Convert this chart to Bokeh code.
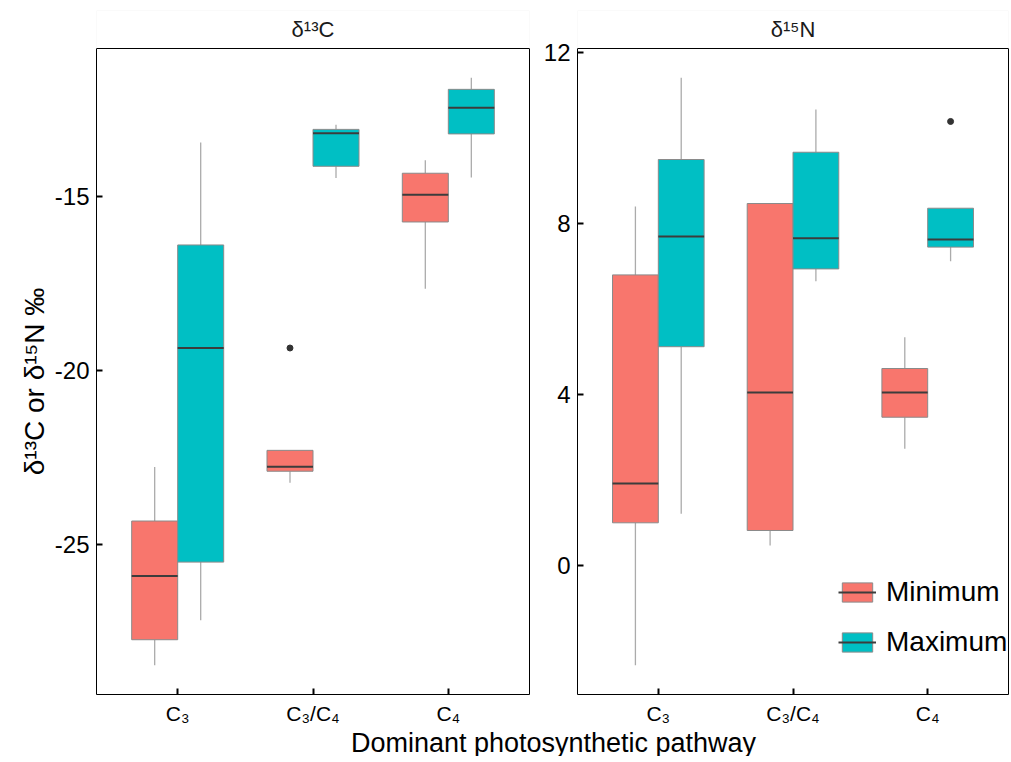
import math
from bokeh.plotting import figure
from bokeh.layouts import column, row
from bokeh.models import (FixedTicker, Range1d, Legend, LegendItem, ColumnDataSource,
                          LinearAxis, Span, BoxAnnotation, Label)
from bokeh.core.properties import value
from bokeh.embed import file_html
from bokeh.resources import INLINE

FONT = "Liberation Sans"

categories = ["C₃", "C₃/C₄", "C₄"]
groups = ["Minimum", "Maximum"]
group_colors = ["#F8766D", "#00BFC4"]

# delta 13C panel
c13_min_lower = [-28.47, -23.23, -17.66]
c13_min_q1 = [-27.74, -22.90, -15.74]
c13_min_median = [-25.91, -22.77, -14.96]
c13_min_q3 = [-24.33, -22.30, -14.34]
c13_min_upper = [-22.78, -22.30, -13.97]
c13_max_lower = [-27.18, -14.48, -14.46]
c13_max_q1 = [-25.51, -14.14, -13.21]
c13_max_median = [-19.36, -13.19, -12.46]
c13_max_q3 = [-16.40, -13.08, -11.93]
c13_max_upper = [-13.46, -12.95, -11.60]
c13_outlier_cat = ["C₃/C₄"]
c13_outlier_group = ["Minimum"]
c13_outlier_val = [-19.36]

# delta 15N panel
n15_min_lower = [-2.33, 0.47, 2.73]
n15_min_q1 = [1.00, 0.82, 3.47]
n15_min_median = [1.92, 4.05, 4.05]
n15_min_q3 = [6.80, 8.47, 4.61]
n15_min_upper = [8.40, 8.47, 5.34]
n15_max_lower = [1.21, 6.65, 7.12]
n15_max_q1 = [5.12, 6.94, 7.45]
n15_max_median = [7.70, 7.66, 7.63]
n15_max_q3 = [9.50, 9.67, 8.36]
n15_max_upper = [11.41, 10.67, 8.36]
n15_outlier_cat = ["C₄"]
n15_outlier_group = ["Maximum"]
n15_outlier_val = [10.39]

c13_ticks = [-25, -20, -15]
n15_ticks = [0, 4, 8, 12]

strip_labels = ["δ¹³C", "δ¹⁵N"]
y_title = "δ¹³C or δ¹⁵N ‰"
x_title = "Dominant photosynthetic pathway"

DODGE = 0.17
BOXW = 0.34
DATA_H = 646
STRIP_H = 38


def make_panel(stats, outliers, ticks, strip_label, left, right, fw, legend=False):
    allvals = []
    for g in stats:
        for k in g:
            allvals += g[k]
    allvals += outliers[2]
    lo, hi = min(allvals), max(allvals)
    pad = (hi - lo) * 0.05
    ymin, ymax = lo - pad, hi + pad
    ppu = DATA_H / (ymax - ymin)
    ytop = ymax + STRIP_H / ppu
    xr = Range1d(0.4, len(categories) + 0.6)
    p = figure(frame_width=fw, frame_height=DATA_H + STRIP_H,
               min_border_left=left, min_border_right=right,
               min_border_top=10, min_border_bottom=36,
               x_range=xr, y_range=Range1d(ymin, ytop),
               output_backend="svg", toolbar_location=None)
    p.grid.visible = False
    p.outline_line_color = None
    p.background_fill_color = "white"
    p.border_fill_color = "white"

    # strip on top of the panel
    p.add_layout(BoxAnnotation(bottom=ymax, fill_color="white", fill_alpha=1,
                               line_color="#d9d9d9", line_width=1, level="underlay"))

    renderers = []
    for gi, (g, col) in enumerate(zip(groups, group_colors)):
        st = stats[gi]
        off = -DODGE if gi == 0 else DODGE
        xs = [i + 1 + off for i in range(len(categories))]
        src = ColumnDataSource(dict(x=xs, lower=st["lower"], q1=st["q1"],
                                    q3=st["q3"], upper=st["upper"],
                                    x0=[x - BOXW / 2 for x in xs],
                                    x1=[x + BOXW / 2 for x in xs],
                                    med=st["median"]))
        p.segment(x0="x", x1="x", y0="q3", y1="upper", source=src,
                  line_color="#ababab", line_width=1.3)
        p.segment(x0="x", x1="x", y0="lower", y1="q1", source=src,
                  line_color="#ababab", line_width=1.3)
        b = p.vbar(x="x", width=BOXW, bottom="q1", top="q3", source=src,
                   fill_color=col, line_color="#8a8a8a", line_width=1)
        med = p.segment(x0="x0", x1="x1", y0="med", y1="med", source=src,
                        line_color="#3c3c3c", line_width=2)
        renderers.append((g, [b, med]))

    ox = []
    for c, g in zip(outliers[0], outliers[1]):
        off = -DODGE if g == groups[0] else DODGE
        ox.append(categories.index(c) + 1 + off)
    p.scatter(x=ox, y=outliers[2], size=6, fill_color="#333333", line_color="#333333")

    p.add_layout(Span(location=ymax, dimension="width", line_color="black", line_width=1))
    p.text(x=[(xr.start + xr.end) / 2], y=[(ymax + ytop) / 2], text=[strip_label],
           text_align="center", text_baseline="middle", text_font=value(FONT),
           text_font_size="22px", text_color="#1a1a1a")

    xax = p.below[0]
    yax = p.left[0]
    xax.ticker = FixedTicker(ticks=[i + 1 for i in range(len(categories))])
    xax.major_label_overrides = {i + 1: c for i, c in enumerate(categories)}
    yax.ticker = FixedTicker(ticks=ticks)
    yax.major_label_overrides = {t: str(t) for t in ticks}
    yax.bounds = (ymin, ymax)
    for ax in (xax, yax):
        ax.major_tick_in = 6
        ax.major_tick_out = 0
        ax.major_tick_line_width = 2
        ax.major_tick_line_color = "black"
        ax.minor_tick_line_color = None
        ax.axis_line_color = "black"
        ax.major_label_text_font = FONT
        ax.major_label_text_color = "black"
    xax.major_label_text_font_size = "21px"
    yax.major_label_text_font_size = "24px"
    xax.major_label_standoff = 7
    yax.major_label_standoff = 7

    rax = LinearAxis(ticker=FixedTicker(ticks=[]), bounds=(ymin, ymax),
                     major_label_text_font_size="0px", axis_line_color="black",
                     major_tick_line_color=None, minor_tick_line_color=None,
                     major_tick_in=0, major_tick_out=0, major_label_standoff=0)
    p.add_layout(rax, "right")

    if legend:
        items = [LegendItem(label=g, renderers=r) for g, r in renderers]
        lg = Legend(items=items, location=(261, 36), padding=0, margin=0,
                    spacing=18, glyph_width=38, glyph_height=24, label_height=32,
                    label_standoff=10, label_text_font=FONT,
                    label_text_font_size="28px", label_text_color="black",
                    border_line_color=None, background_fill_alpha=0)
        p.add_layout(lg)
    return p


c13_stats = [
    dict(lower=c13_min_lower, q1=c13_min_q1, median=c13_min_median, q3=c13_min_q3, upper=c13_min_upper),
    dict(lower=c13_max_lower, q1=c13_max_q1, median=c13_max_median, q3=c13_max_q3, upper=c13_max_upper),
]
n15_stats = [
    dict(lower=n15_min_lower, q1=n15_min_q1, median=n15_min_median, q3=n15_min_q3, upper=n15_min_upper),
    dict(lower=n15_max_lower, q1=n15_max_q1, median=n15_max_median, q3=n15_max_q3, upper=n15_max_upper),
]

left = make_panel(c13_stats, (c13_outlier_cat, c13_outlier_group, c13_outlier_val),
                  c13_ticks, strip_labels[0], 46, 6, 433)
right = make_panel(n15_stats, (n15_outlier_cat, n15_outlier_group, n15_outlier_val),
                   n15_ticks, strip_labels[1], 42, 3, 431, legend=True)

# y axis title (shared)
yt = figure(frame_width=50, frame_height=730, min_border=0,
            x_range=Range1d(0, 50), y_range=Range1d(730, 0),
            x_axis_location=None, y_axis_location=None,
            output_backend="svg", toolbar_location=None)
yt.grid.visible = False
yt.outline_line_color = None
yt.text(x=[34], y=[371], text=[y_title], angle=math.pi / 2, text_align="center",
        text_baseline="middle", text_font=value(FONT), text_font_size="28px",
        text_color="black")

# x axis title (shared)
tf = figure(frame_width=1011, frame_height=40, min_border=0,
            x_range=Range1d(0, 1011), y_range=Range1d(0, 40),
            x_axis_location=None, y_axis_location=None,
            output_backend="svg", toolbar_location=None)
tf.grid.visible = False
tf.outline_line_color = None
tf.background_fill_alpha = 0
tf.border_fill_alpha = 0
tf.margin = (-14, 0, 0, 0)
tf.add_layout(Label(x=553, y=14, text=x_title, text_align="center",
                    text_baseline="alphabetic", text_font=FONT,
                    text_font_size="27px", text_color="black"))

layout = column(row(yt, left, right), tf)
open("out.html", "w").write(file_html(layout, INLINE))
